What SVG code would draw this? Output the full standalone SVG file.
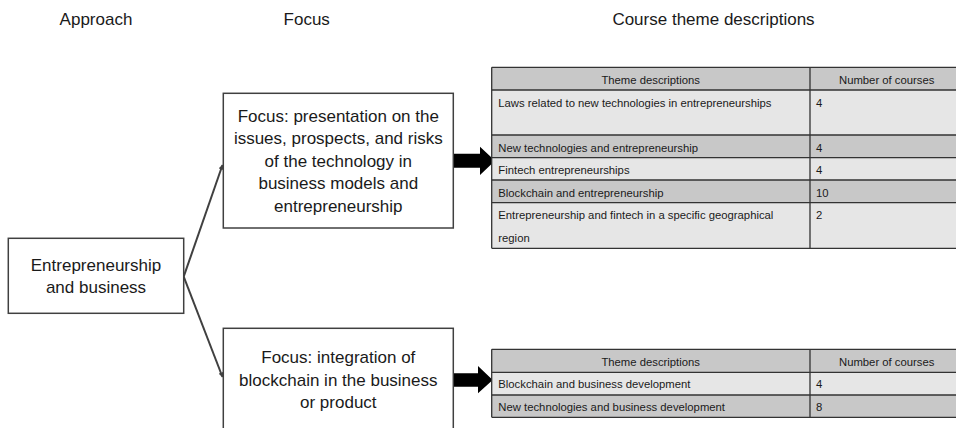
<svg xmlns="http://www.w3.org/2000/svg" width="956" height="428" viewBox="0 0 956 428">
<defs>
<style>
text{font-family:"Liberation Sans",Arial,sans-serif;fill:#1a1a1a}
.h{font-size:17px;text-anchor:middle}
.b{font-size:17px;text-anchor:middle}
.t{font-size:11.3px}
.tc{font-size:11.3px;text-anchor:middle}
.box{fill:#fff;stroke:#404040;stroke-width:1.5}
.lt{fill:#e6e6e6}
.dk{fill:#c8c8c8}
.grid{stroke:#333;stroke-width:1.3;fill:none}
.conn{stroke:#404040;stroke-width:2;fill:none}
</style>
<marker id="ah" viewBox="0 0 10 10" refX="9" refY="5" markerWidth="5" markerHeight="5" orient="auto" markerUnits="userSpaceOnUse">
<path d="M0,0 L10,5 L0,10 z" fill="#404040"/>
</marker>
</defs>
<rect width="956" height="428" fill="#fff"/>
<g id="headings">
<text class="h" x="96" y="25">Approach</text>
<text class="h" x="306.7" y="25">Focus</text>
<text class="h" x="713.5" y="25">Course theme descriptions</text>
</g>
<g id="connectors">
<path class="conn" d="M183.7,276.7 L222.5,165" marker-end="url(#ah)"/>
<path class="conn" d="M183.7,276.7 L222.5,377" marker-end="url(#ah)"/>
<path d="M453.3,153.7 H480 V146.7 L495,160.7 L480,175 V167.7 H453.3 z" fill="#000"/>
<path d="M453.3,373.3 H478 V366 L492.7,380 L478,393.3 V386.7 H453.3 z" fill="#000"/>
</g>
<g id="approach">
<rect class="box" x="8.3" y="238.3" width="175.4" height="75"/>
<text class="b" x="96" y="270.7">Entrepreneurship</text>
<text class="b" x="96" y="293.3">and business</text>
</g>
<g id="focus1">
<rect class="box" x="223.3" y="93.3" width="230" height="134.7"/>
<text class="b" x="338.3" y="121.7">Focus: presentation on the</text>
<text class="b" x="338.3" y="144.2">issues, prospects, and risks</text>
<text class="b" x="338.3" y="166.7">of the technology in</text>
<text class="b" x="338.3" y="189.3">business models and</text>
<text class="b" x="338.3" y="211.7">entrepreneurship</text>
</g>
<g id="focus2">
<rect class="box" x="223.3" y="328.3" width="230" height="110"/>
<text class="b" x="338.3" y="363.3">Focus: integration of</text>
<text class="b" x="338.3" y="386">blockchain in the business</text>
<text class="b" x="338.3" y="408.3">or product</text>
</g>
<g id="table1">
<rect class="dk" x="491.7" y="67.3" width="471" height="22.7"/>
<rect class="lt" x="491.7" y="90" width="471" height="45"/>
<rect class="dk" x="491.7" y="135" width="471" height="22.7"/>
<rect class="lt" x="491.7" y="157.7" width="471" height="22.3"/>
<rect class="dk" x="491.7" y="180" width="471" height="22.7"/>
<rect class="lt" x="491.7" y="202.7" width="471" height="45.6"/>
<path class="grid" d="M491.7,67.3 H963 M491.7,90 H963 M491.7,135 H963 M491.7,157.7 H963 M491.7,180 H963 M491.7,202.7 H963 M491.7,248.3 H963 M491.7,67.3 V248.3 M810,67.3 V248.3"/>
<text class="tc" x="650.7" y="84">Theme descriptions</text>
<text class="tc" x="886.7" y="84">Number of courses</text>
<text class="t" x="498.3" y="106.7">Laws related to new technologies in entrepreneurships</text>
<text class="t" x="816" y="106.7">4</text>
<text class="t" x="498.3" y="151.7">New technologies and entrepreneurship</text>
<text class="t" x="816" y="151.7">4</text>
<text class="t" x="498.3" y="174.3">Fintech entrepreneurships</text>
<text class="t" x="816" y="174.3">4</text>
<text class="t" x="498.3" y="196.7">Blockchain and entrepreneurship</text>
<text class="t" x="816" y="196.7">10</text>
<text class="t" x="498.3" y="219.3">Entrepreneurship and fintech in a specific geographical</text>
<text class="t" x="498.3" y="241.7">region</text>
<text class="t" x="816" y="219.3">2</text>
</g>
<g id="table2">
<rect class="dk" x="491.7" y="349.3" width="471" height="23"/>
<rect class="lt" x="491.7" y="372.3" width="471" height="22.7"/>
<rect class="dk" x="491.7" y="395" width="471" height="22.3"/>
<path class="grid" d="M491.7,349.3 H963 M491.7,372.3 H963 M491.7,395 H963 M491.7,417.3 H963 M491.7,349.3 V417.3 M810,349.3 V417.3"/>
<text class="tc" x="650.7" y="366">Theme descriptions</text>
<text class="tc" x="886.7" y="366">Number of courses</text>
<text class="t" x="498.3" y="388.3">Blockchain and business development</text>
<text class="t" x="816" y="388.3">4</text>
<text class="t" x="498.3" y="410.7">New technologies and business development</text>
<text class="t" x="816" y="410.7">8</text>
</g>
</svg>
